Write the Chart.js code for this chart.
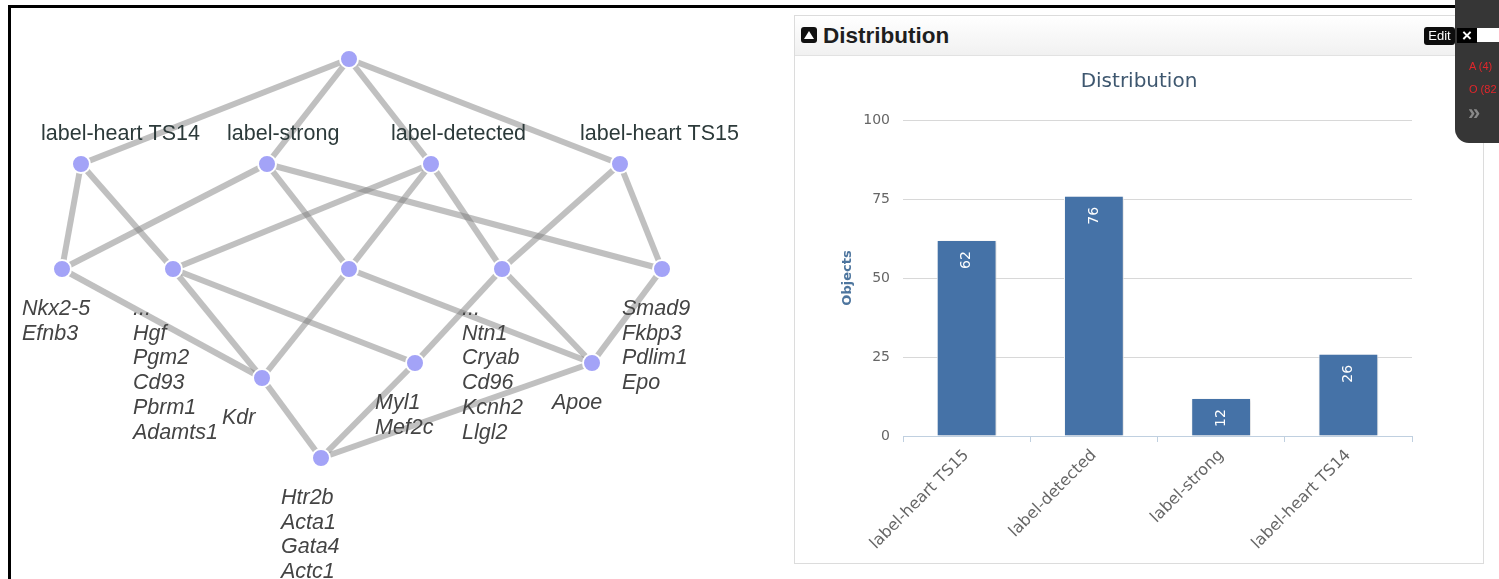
<!DOCTYPE html>
<html>
<head>
<meta charset="utf-8">
<script src="https://cdn.jsdelivr.net/npm/chart.js@4.4.0/dist/chart.umd.min.js"></script>
<style>
body { margin: 0; width: 1499px; height: 579px; overflow: hidden; background: #fff; position: relative; font-family: Arial, 'Liberation Sans', sans-serif; }
#latticeChart { position: absolute; left: 0; top: 0; }
#frame { position: absolute; left: 8px; top: 5px; width: 1460px; height: 590px; border-left: 3px solid #000; border-top: 3px solid #000; pointer-events: none; }
#panel { position: absolute; left: 794px; top: 15px; width: 688px; height: 547px; border: 1px solid #dcdcdc; background: #fff; }
#panelHead { position: relative; height: 39px; border-bottom: 1px solid #e2e2e2; background: linear-gradient(#ffffff, #f1f1f1); }
#panelIcon { position: absolute; left: 6px; top: 11px; width: 16px; height: 16px; background: #111; border-radius: 3px; }
#panelIcon:after { content: ''; position: absolute; left: 3px; top: 4px; border-left: 5px solid transparent; border-right: 5px solid transparent; border-bottom: 8px solid #fff; }
#panelTitle { position: absolute; left: 28px; top: 0; line-height: 39px; font-weight: bold; font-size: 22.5px; color: #1e1e1e; }
#barChart { position: absolute; left: 796px; top: 56px; }
#sideBar { position: absolute; left: 1455px; top: 0; width: 44px; height: 143px; background: #363636; border-bottom-left-radius: 14px; }
.red { position: absolute; left: 14px; font-size: 11px; color: #e3262b; }
#more { position: absolute; left: 13px; top: 100px; font-size: 22px; font-weight: bold; color: #8a8a8a; }
#editBtn { position: absolute; left: 1424px; top: 27px; width: 31px; height: 18px; background: #0d0d0d; border-radius: 3px; color: #fff; font-size: 13px; line-height: 18px; text-align: center; }
#closeBtn { position: absolute; left: 1457px; top: 28px; width: 20px; height: 15px; background: #000; color: #fff; font-size: 17px; font-weight: bold; line-height: 15px; text-align: center; }
#inputBox { position: absolute; left: 1477px; top: 28px; width: 22px; height: 14px; background: #fff; }
</style>
</head>
<body>
<canvas id="latticeChart" width="790" height="579"></canvas>
<div id="frame"></div>
<div id="panel">
  <div id="panelHead"><div id="panelIcon"></div><div id="panelTitle">Distribution</div></div>
</div>
<canvas id="barChart" width="686" height="506"></canvas>
<div id="sideBar">
  <div class="red" style="top:60px">A (4)</div>
  <div class="red" style="top:83px">O (82</div>
  <div id="more">»</div>
</div>
<div id="editBtn">Edit</div>
<div id="closeBtn">×</div>
<div id="inputBox"></div>
<script>
'use strict'

// lattice nodes (position in the drawing, top node first)
let nodeX = [349, 81, 267, 431, 620, 62, 173, 349, 502, 662, 262, 415, 592, 321];
let nodeY = [59, 164, 164, 164, 164, 269, 269, 269, 269, 269, 378, 363, 363, 458];
let edges = [[0, 1], [0, 2], [0, 3], [0, 4], [1, 5], [1, 6], [2, 5], [2, 7], [2, 9], [3, 6], [3, 7], [3, 8],
    [4, 8], [4, 9], [5, 10], [6, 10], [6, 11], [7, 10], [7, 12], [8, 11], [8, 12], [9, 12], [10, 13], [11, 13], [12, 13]];
let nodeTitles = ['', 'label-heart TS14', 'label-strong', 'label-detected', 'label-heart TS15', '', '', '', '', '', '', '', '', ''];
let nodeGenes = [[], [], [], [], [],
    ['Nkx2-5', 'Efnb3'],
    ['...', 'Hgf', 'Pgm2', 'Cd93', 'Pbrm1', 'Adamts1'],
    [],
    ['...', 'Ntn1', 'Cryab', 'Cd96', 'Kcnh2', 'Llgl2'],
    ['Smad9', 'Fkbp3', 'Pdlim1', 'Epo'],
    ['Kdr'],
    ['Myl1', 'Mef2c'],
    ['Apoe'],
    ['Htr2b', 'Acta1', 'Gata4', 'Actc1']];

// distribution bar chart
let categories = ['label-heart TS15', 'label-detected', 'label-strong', 'label-heart TS14'];
let objectCounts = [62, 76, 12, 26];
let yTicks = [0, 25, 50, 75, 100];

const latticeLabels = {
    id: 'latticeLabels',
    afterDatasetsDraw(chart) {
        let ctx = chart.ctx;
        let xs = chart.scales.x, ys = chart.scales.y;
        ctx.save();
        ctx.textAlign = 'left';
        ctx.textBaseline = 'alphabetic';
        nodeX.forEach((v, i) => {
            let px = xs.getPixelForValue(v) - 40;
            let py = ys.getPixelForValue(nodeY[i]);
            if (nodeTitles[i] !== '') {
                ctx.font = '21.5px Arial, "Liberation Sans"';
                ctx.fillStyle = '#2c3a3a';
                ctx.fillText(nodeTitles[i], px, py - 24);
            }
            ctx.font = 'italic 21.5px Arial, "Liberation Sans"';
            ctx.fillStyle = '#444';
            nodeGenes[i].forEach((g, k) => ctx.fillText(g, px, py + 46 + k * 24.7));
        });
        ctx.restore();
    }
};

function drawLattice() {
    let datasets = [{
        data: nodeX.map((x, i) => ({x: x, y: nodeY[i]})),
        pointRadius: 9,
        pointBackgroundColor: '#a3a3f7',
        pointBorderColor: '#fff',
        pointBorderWidth: 2,
        showLine: false
    }];
    edges.forEach(e => {
        datasets.push({
            data: [{x: nodeX[e[0]], y: nodeY[e[0]]}, {x: nodeX[e[1]], y: nodeY[e[1]]}],
            showLine: true,
            borderColor: 'rgba(130,130,130,0.5)',
            borderWidth: 6,
            pointRadius: 0
        });
    });
    new Chart(document.getElementById('latticeChart'), {
        type: 'scatter',
        data: {datasets: datasets},
        options: {
            responsive: false,
            animation: false,
            events: [],
            layout: {padding: 0, autoPadding: false},
            plugins: {legend: {display: false}, tooltip: {enabled: false}},
            scales: {
                x: {type: 'linear', min: 0, max: 790, display: false},
                y: {type: 'linear', min: 0, max: 579, reverse: true, display: false}
            }
        },
        plugins: [latticeLabels]
    });
}

const barExtras = {
    id: 'barExtras',
    beforeDatasetsDraw(chart) {
        let ctx = chart.ctx;
        ctx.save();
        ctx.shadowColor = 'rgba(0,0,0,0.18)';
        ctx.shadowOffsetX = 1;
        ctx.shadowOffsetY = 1;
        ctx.shadowBlur = 3;
    },
    afterDatasetsDraw(chart) {
        let ctx = chart.ctx;
        ctx.restore();
        chart.getDatasetMeta(0).data.forEach((bar, i) => {
            ctx.save();
            ctx.translate(bar.x, bar.y + 11);
            ctx.rotate(-Math.PI / 2);
            ctx.font = '14px "DejaVu Sans"';
            ctx.fillStyle = '#fff';
            ctx.textAlign = 'right';
            ctx.textBaseline = 'middle';
            ctx.fillText(String(objectCounts[i]), 0, 0);
            ctx.restore();
        });
    }
};

function drawDistribution() {
    Chart.defaults.font.family = '"DejaVu Sans", Verdana, sans-serif';
    new Chart(document.getElementById('barChart'), {
        type: 'bar',
        data: {
            labels: categories,
            datasets: [{
                data: objectCounts,
                backgroundColor: '#4572a7',
                borderColor: '#fff',
                borderWidth: 1,
                categoryPercentage: 1,
                barPercentage: 0.47
            }]
        },
        options: {
            responsive: false,
            animation: false,
            events: [],
            layout: {padding: 0},
            plugins: {
                legend: {display: false},
                tooltip: {enabled: false},
                title: {
                    display: true,
                    text: 'Distribution',
                    color: '#3e576f',
                    font: {size: 20, weight: 'normal'},
                    padding: {top: 14, bottom: 26}
                }
            },
            scales: {
                x: {
                    grid: {display: true, drawOnChartArea: false, drawTicks: true, tickLength: 6, color: '#c0d0e0', offset: true},
                    border: {color: '#c0d0e0'},
                    ticks: {minRotation: 45, maxRotation: 45, autoSkip: false, color: '#666', font: {size: 16}, padding: 4},
                    afterFit: s => { s.height = 126; }
                },
                y: {
                    min: 0,
                    max: 100,
                    grid: {color: '#d8d8d8', drawTicks: false},
                    border: {display: false},
                    ticks: {color: '#666', font: {size: 14}, padding: 13},
                    afterBuildTicks: s => { s.ticks = yTicks.map(v => ({value: v})); },
                    afterFit: s => { s.width = 107; },
                    title: {display: true, text: 'Objects', color: '#4d759e', font: {size: 13, weight: 'bold'}, padding: {top: 44, bottom: 0}}
                },
                // empty right axis, only keeps the right margin of the plot
                yRight: {
                    position: 'right',
                    grid: {display: false},
                    border: {display: false},
                    ticks: {display: false},
                    afterFit: s => { s.width = 70; }
                }
            }
        },
        plugins: [barExtras]
    });
}

window.onload = function () {
    drawLattice();
    drawDistribution();
};
</script>
</body>
</html>
